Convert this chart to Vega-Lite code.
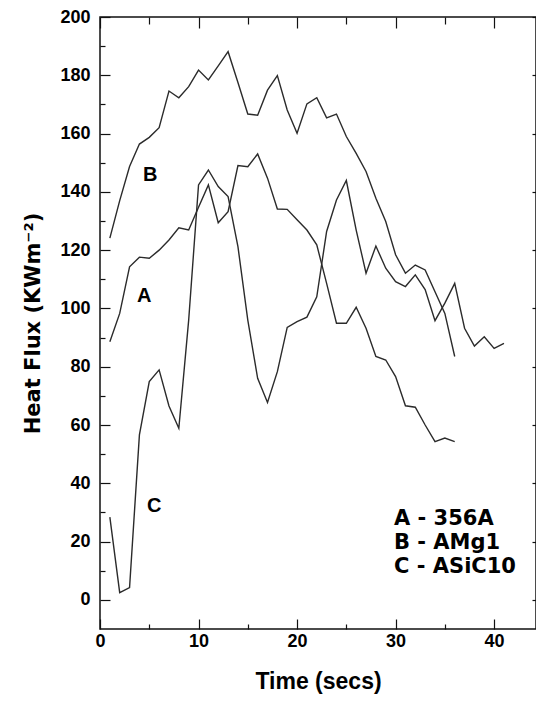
{
  "$schema": "https://vega.github.io/schema/vega-lite/v6.json",
  "width": 436,
  "height": 612,
  "autosize": {"type": "none"},
  "padding": {"left": 100, "top": 17, "right": 0, "bottom": 73},
  "background": "white",
  "config": {
    "view": {"stroke": "#111", "strokeWidth": 1.5},
    "axis": {
      "grid": false,
      "domain": false,
      "tickColor": "#111",
      "tickWidth": 1.2,
      "labelFont": "Liberation Sans",
      "labelFontWeight": "bold",
      "labelFontSize": 18,
      "labelColor": "#000",
      "labelFlush": false,
      "labelOverlap": false,
      "titleFont": "Liberation Sans",
      "titleFontWeight": "bold",
      "titleFontSize": 23,
      "titleColor": "#000"
    }
  },
  "datasets": {
    "curves": [
      {"series": "A - 356A", "t": 1, "v": 88.6},
      {"series": "A - 356A", "t": 2, "v": 98.3},
      {"series": "A - 356A", "t": 3, "v": 114.3},
      {"series": "A - 356A", "t": 4, "v": 117.6},
      {"series": "A - 356A", "t": 5, "v": 117.2},
      {"series": "A - 356A", "t": 6, "v": 120},
      {"series": "A - 356A", "t": 7, "v": 123.5},
      {"series": "A - 356A", "t": 8, "v": 127.7},
      {"series": "A - 356A", "t": 9, "v": 126.9},
      {"series": "A - 356A", "t": 10, "v": 134.7},
      {"series": "A - 356A", "t": 11, "v": 142.4},
      {"series": "A - 356A", "t": 12, "v": 129.4},
      {"series": "A - 356A", "t": 13, "v": 133.2},
      {"series": "A - 356A", "t": 14, "v": 149},
      {"series": "A - 356A", "t": 15, "v": 148.6},
      {"series": "A - 356A", "t": 16, "v": 153},
      {"series": "A - 356A", "t": 17, "v": 144.7},
      {"series": "A - 356A", "t": 18, "v": 134.1},
      {"series": "A - 356A", "t": 19, "v": 134},
      {"series": "A - 356A", "t": 20, "v": 130.4},
      {"series": "A - 356A", "t": 21, "v": 126.9},
      {"series": "A - 356A", "t": 22, "v": 121.8},
      {"series": "A - 356A", "t": 23, "v": 108.6},
      {"series": "A - 356A", "t": 24, "v": 94.9},
      {"series": "A - 356A", "t": 25, "v": 94.9},
      {"series": "A - 356A", "t": 26, "v": 100.4},
      {"series": "A - 356A", "t": 27, "v": 93.2},
      {"series": "A - 356A", "t": 28, "v": 83.5},
      {"series": "A - 356A", "t": 29, "v": 82.3},
      {"series": "A - 356A", "t": 30, "v": 76.6},
      {"series": "A - 356A", "t": 31, "v": 66.6},
      {"series": "A - 356A", "t": 32, "v": 66.1},
      {"series": "A - 356A", "t": 33, "v": 60},
      {"series": "A - 356A", "t": 34, "v": 54.3},
      {"series": "A - 356A", "t": 35, "v": 55.5},
      {"series": "A - 356A", "t": 36, "v": 54.3},
      {"series": "B - AMg1", "t": 1, "v": 124.1},
      {"series": "B - AMg1", "t": 2, "v": 137},
      {"series": "B - AMg1", "t": 3, "v": 148.7},
      {"series": "B - AMg1", "t": 4, "v": 156.4},
      {"series": "B - AMg1", "t": 5, "v": 158.7},
      {"series": "B - AMg1", "t": 6, "v": 162},
      {"series": "B - AMg1", "t": 7, "v": 174.6},
      {"series": "B - AMg1", "t": 8, "v": 172.3},
      {"series": "B - AMg1", "t": 9, "v": 176.1},
      {"series": "B - AMg1", "t": 10, "v": 181.8},
      {"series": "B - AMg1", "t": 11, "v": 178.4},
      {"series": "B - AMg1", "t": 12, "v": 183.2},
      {"series": "B - AMg1", "t": 13, "v": 188.1},
      {"series": "B - AMg1", "t": 14, "v": 177.5},
      {"series": "B - AMg1", "t": 15, "v": 166.7},
      {"series": "B - AMg1", "t": 16, "v": 166.3},
      {"series": "B - AMg1", "t": 17, "v": 174.9},
      {"series": "B - AMg1", "t": 18, "v": 179.9},
      {"series": "B - AMg1", "t": 19, "v": 168.1},
      {"series": "B - AMg1", "t": 20, "v": 160.1},
      {"series": "B - AMg1", "t": 21, "v": 170.2},
      {"series": "B - AMg1", "t": 22, "v": 172.3},
      {"series": "B - AMg1", "t": 23, "v": 165.4},
      {"series": "B - AMg1", "t": 24, "v": 166.7},
      {"series": "B - AMg1", "t": 25, "v": 159},
      {"series": "B - AMg1", "t": 26, "v": 153.2},
      {"series": "B - AMg1", "t": 27, "v": 147},
      {"series": "B - AMg1", "t": 28, "v": 137.8},
      {"series": "B - AMg1", "t": 29, "v": 129.8},
      {"series": "B - AMg1", "t": 30, "v": 118.4},
      {"series": "B - AMg1", "t": 31, "v": 112.1},
      {"series": "B - AMg1", "t": 32, "v": 114.9},
      {"series": "B - AMg1", "t": 33, "v": 113.2},
      {"series": "B - AMg1", "t": 34, "v": 105.7},
      {"series": "B - AMg1", "t": 35, "v": 98.3},
      {"series": "B - AMg1", "t": 36, "v": 83.5},
      {"series": "C - ASiC10", "t": 1, "v": 28.4},
      {"series": "C - ASiC10", "t": 2, "v": 2.5},
      {"series": "C - ASiC10", "t": 3, "v": 4.2},
      {"series": "C - ASiC10", "t": 4, "v": 56.6},
      {"series": "C - ASiC10", "t": 5, "v": 74.9},
      {"series": "C - ASiC10", "t": 6, "v": 78.9},
      {"series": "C - ASiC10", "t": 7, "v": 66.5},
      {"series": "C - ASiC10", "t": 8, "v": 58.9},
      {"series": "C - ASiC10", "t": 9, "v": 96},
      {"series": "C - ASiC10", "t": 10, "v": 142.4},
      {"series": "C - ASiC10", "t": 11, "v": 147.5},
      {"series": "C - ASiC10", "t": 12, "v": 141.8},
      {"series": "C - ASiC10", "t": 13, "v": 138.4},
      {"series": "C - ASiC10", "t": 14, "v": 121.2},
      {"series": "C - ASiC10", "t": 15, "v": 96},
      {"series": "C - ASiC10", "t": 16, "v": 76},
      {"series": "C - ASiC10", "t": 17, "v": 67.7},
      {"series": "C - ASiC10", "t": 18, "v": 78.3},
      {"series": "C - ASiC10", "t": 19, "v": 93.5},
      {"series": "C - ASiC10", "t": 20, "v": 95.5},
      {"series": "C - ASiC10", "t": 21, "v": 97},
      {"series": "C - ASiC10", "t": 22, "v": 104},
      {"series": "C - ASiC10", "t": 23, "v": 126.4},
      {"series": "C - ASiC10", "t": 24, "v": 137.2},
      {"series": "C - ASiC10", "t": 25, "v": 143.9},
      {"series": "C - ASiC10", "t": 26, "v": 126.9},
      {"series": "C - ASiC10", "t": 27, "v": 112.1},
      {"series": "C - ASiC10", "t": 28, "v": 121.4},
      {"series": "C - ASiC10", "t": 29, "v": 113.8},
      {"series": "C - ASiC10", "t": 30, "v": 109.2},
      {"series": "C - ASiC10", "t": 31, "v": 107.5},
      {"series": "C - ASiC10", "t": 32, "v": 111.5},
      {"series": "C - ASiC10", "t": 33, "v": 106.5},
      {"series": "C - ASiC10", "t": 34, "v": 95.8},
      {"series": "C - ASiC10", "t": 35, "v": 101.8},
      {"series": "C - ASiC10", "t": 36, "v": 108.6},
      {"series": "C - ASiC10", "t": 37, "v": 93.2},
      {"series": "C - ASiC10", "t": 38, "v": 87.1},
      {"series": "C - ASiC10", "t": 39, "v": 90.3},
      {"series": "C - ASiC10", "t": 40, "v": 86.3},
      {"series": "C - ASiC10", "t": 41, "v": 88}
    ],
    "labels": [
      {"text": "A", "t": 4.5, "v": 104.3},
      {"text": "B", "t": 5.1, "v": 145.8},
      {"text": "C", "t": 5.5, "v": 32.1}
    ]
  },
  "resolve": {"axis": {"x": "independent", "y": "independent"}},
  "layer": [
    {
      "data": {"name": "curves"},
      "transform": [{"filter": "datum.series === 'A - 356A'"}],
      "mark": {"type": "line", "strokeWidth": 1.4},
      "encoding": {
        "x": {
          "field": "t", "type": "quantitative",
          "scale": {"domain": [0, 44.25], "nice": false, "zero": false},
          "axis": {"orient": "bottom", "values": [0, 10, 20, 30, 40], "tickSize": -10, "labelPadding": 13, "title": "Time (secs)", "titlePadding": 20}
        },
        "y": {
          "field": "v", "type": "quantitative",
          "scale": {"domain": [-10, 200], "nice": false, "zero": false},
          "axis": {"orient": "left", "values": [0, 20, 40, 60, 80, 100, 120, 140, 160, 180, 200], "tickSize": -10, "labelPadding": 20, "title": "Heat Flux (KWm⁻²)", "titleFont": "DejaVu Sans", "titleFontSize": 21, "titlePadding": 16}
        },
        "color": {
          "field": "series", "type": "nominal",
          "scale": {"domain": ["A - 356A", "B - AMg1", "C - ASiC10"], "range": ["#2b2b2b", "#2b2b2b", "#2b2b2b"]},
          "legend": {
            "orient": "none", "legendX": 273, "legendY": 491, "title": null,
            "symbolOpacity": 0, "symbolSize": 0, "symbolStrokeWidth": 0, "labelOffset": 0,
            "labelFont": "DejaVu Sans", "labelFontWeight": "bold", "labelFontSize": 21,
            "labelColor": "#000", "rowPadding": 2, "padding": 0, "labelLimit": 0
          }
        }
      }
    },
    {
      "data": {"name": "curves"},
      "transform": [{"filter": "datum.series === 'B - AMg1'"}],
      "mark": {"type": "line", "strokeWidth": 1.4, "color": "#2b2b2b"},
      "encoding": {
        "x": {"field": "t", "type": "quantitative", "axis": {"orient": "top", "values": [0, 10, 20, 30, 40], "tickSize": -11, "labels": false, "title": null}},
        "y": {"field": "v", "type": "quantitative", "axis": {"orient": "right", "values": [0, 20, 40, 60, 80, 100, 120, 140, 160, 180, 200], "tickSize": -4, "labels": false, "title": null}}
      }
    },
    {
      "data": {"name": "curves"},
      "transform": [{"filter": "datum.series === 'C - ASiC10'"}],
      "mark": {"type": "line", "strokeWidth": 1.4, "color": "#2b2b2b"},
      "encoding": {
        "x": {"field": "t", "type": "quantitative", "axis": {"orient": "top", "values": [5, 15, 25, 35], "tickSize": -7, "labels": false, "title": null}},
        "y": {"field": "v", "type": "quantitative", "axis": null}
      }
    },
    {
      "data": {"name": "labels"},
      "mark": {"type": "text", "font": "Liberation Sans", "fontWeight": "bold", "fontSize": 20, "color": "#000", "align": "center", "baseline": "middle"},
      "encoding": {
        "x": {"field": "t", "type": "quantitative", "axis": {"orient": "bottom", "values": [5, 15, 25, 35], "tickSize": -5, "labels": false, "title": null}},
        "y": {"field": "v", "type": "quantitative", "axis": {"orient": "left", "values": [10, 30, 50, 70, 90, 110, 130, 150, 170, 190], "tickSize": -5, "labels": false, "title": null}},
        "text": {"field": "text"}
      }
    }
  ]
}
